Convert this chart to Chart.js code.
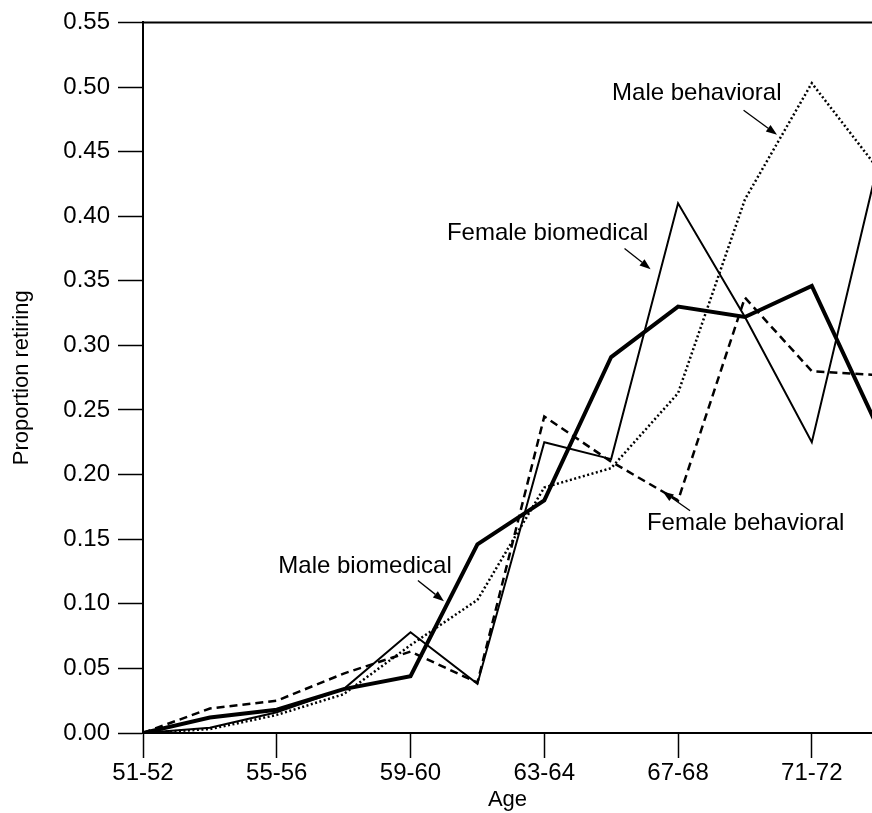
<!DOCTYPE html>
<html>
<head>
<meta charset="utf-8">
<title>Proportion retiring by age</title>
<script src="https://cdn.jsdelivr.net/npm/chart.js@4/dist/chart.umd.min.js"></script>
<style>
  html, body { margin: 0; padding: 0; background: #fff; overflow: hidden; }
  #wrap { width: 872px; height: 813px; }
</style>
</head>
<body>
<div id="wrap"><canvas id="chartcanvas"></canvas></div>
<script>
const ageGroups = ["51-52", "53-54", "55-56", "57-58", "59-60", "61-62",
  "63-64", "65-66", "67-68", "69-70", "71-72", "73-74"];

const maleBiomedical   = [0.000, 0.012, 0.018, 0.034, 0.044, 0.146, 0.180, 0.291, 0.330, 0.322, 0.346, 0.235];
const femaleBiomedical = [0.000, 0.004, 0.016, 0.034, 0.078, 0.038, 0.225, 0.212, 0.410, 0.322, 0.225, 0.443];
const maleBehavioral   = [0.000, 0.003, 0.014, 0.030, 0.068, 0.103, 0.190, 0.205, 0.263, 0.413, 0.503, 0.436];
const femaleBehavioral = [0.000, 0.019, 0.025, 0.046, 0.063, 0.039, 0.245, 0.210, 0.180, 0.337, 0.280, 0.277];

const yTicks = [0, 0.05, 0.10, 0.15, 0.20, 0.25, 0.30, 0.35, 0.40, 0.45, 0.50, 0.55];

// labels with arrows, in data units (x = age group index, y = proportion)
const notes = [
  { text: "Male behavioral",   at: [8.28, 0.495], from: [8.98, 0.482], to: [9.48, 0.463] },
  { text: "Female biomedical", at: [6.05, 0.387], from: [7.20, 0.375], to: [7.59, 0.359] },
  { text: "Female behavioral", at: [9.01, 0.162], from: [8.18, 0.172], to: [7.77, 0.187] },
  { text: "Male biomedical",   at: [3.32, 0.129], from: [4.11, 0.118], to: [4.50, 0.102] },
];

const FONT = "'Liberation Sans', Arial, Helvetica, sans-serif";
Chart.defaults.font.family = FONT;
Chart.defaults.color = "#000";

const toPoints = (arr) => arr.map((v, i) => ({ x: i, y: v }));

const annotate = {
  id: "annotate",
  afterDatasetsDraw(chart) {
    const { ctx, chartArea, scales: { x, y } } = chart;
    ctx.save();
    // top frame line
    ctx.strokeStyle = "#000";
    ctx.lineWidth = 2;
    ctx.beginPath();
    ctx.moveTo(chartArea.left, chartArea.top);
    ctx.lineTo(chartArea.right, chartArea.top);
    ctx.stroke();

    ctx.font = "24px " + FONT;
    ctx.fillStyle = "#000";
    ctx.textAlign = "center";
    ctx.textBaseline = "middle";
    notes.forEach((n) => {
      ctx.fillText(n.text, x.getPixelForValue(n.at[0]), y.getPixelForValue(n.at[1]));
      const x0 = x.getPixelForValue(n.from[0]), y0 = y.getPixelForValue(n.from[1]);
      const x1 = x.getPixelForValue(n.to[0]), y1 = y.getPixelForValue(n.to[1]);
      const ang = Math.atan2(y1 - y0, x1 - x0);
      const len = 11, half = 4;
      ctx.lineWidth = 1.3;
      ctx.beginPath();
      ctx.moveTo(x0, y0);
      ctx.lineTo(x1 - len * Math.cos(ang), y1 - len * Math.sin(ang));
      ctx.stroke();
      ctx.beginPath();
      ctx.moveTo(x1, y1);
      ctx.lineTo(x1 - len * Math.cos(ang) + half * Math.sin(ang), y1 - len * Math.sin(ang) - half * Math.cos(ang));
      ctx.lineTo(x1 - len * Math.cos(ang) - half * Math.sin(ang), y1 - len * Math.sin(ang) + half * Math.cos(ang));
      ctx.closePath();
      ctx.fill();
    });
    ctx.restore();
  },
};

const config = {
  type: "line",
  data: {
    datasets: [
      {
        label: "Male biomedical",
        data: toPoints(maleBiomedical),
        borderColor: "#000",
        borderWidth: 4,
      },
      {
        label: "Female biomedical",
        data: toPoints(femaleBiomedical),
        borderColor: "#000",
        borderWidth: 2,
      },
      {
        label: "Male behavioral",
        data: toPoints(maleBehavioral),
        borderColor: "#000",
        borderWidth: 2.5,
        borderDash: [2, 2.5],
      },
      {
        label: "Female behavioral",
        data: toPoints(femaleBehavioral),
        borderColor: "#000",
        borderWidth: 2.5,
        borderDash: [8, 5],
      },
    ],
  },
  options: {
    responsive: true,
    maintainAspectRatio: false,
    animation: false,
    layout: { padding: { top: 1, right: 0, left: 0, bottom: 0 } },
    elements: {
      point: { radius: 0, hoverRadius: 0 },
      line: { tension: 0, borderCapStyle: "butt", borderJoinStyle: "miter" },
    },
    plugins: {
      legend: { display: false },
      tooltip: { enabled: false },
    },
    scales: {
      x: {
        type: "linear",
        min: 0,
        max: 10.9,
        afterFit: (scale) => { scale.height = 80; },
        ticks: {
          stepSize: 2,
          includeBounds: false,
          padding: 1,
          font: { size: 24 },
          color: "#000",
          callback: (v) => ageGroups[v] || "",
        },
        grid: {
          drawOnChartArea: false,
          tickLength: 25,
          tickColor: "#000",
          tickWidth: 1.5,
        },
        border: { color: "#000", width: 2 },
        title: {
          display: true,
          text: "Age",
          font: { size: 22 },
          color: "#000",
          padding: { top: 0, bottom: 0 },
        },
      },
      y: {
        min: 0,
        max: 0.55,
        afterFit: (scale) => { scale.width = 143; },
        afterBuildTicks: (scale) => { scale.ticks = yTicks.map((v) => ({ value: v })); },
        ticks: {
          padding: 8,
          font: { size: 24 },
          color: "#000",
          callback: (v) => v.toFixed(2),
        },
        grid: {
          drawOnChartArea: false,
          tickLength: 25,
          tickColor: "#000",
          tickWidth: 1.5,
        },
        border: { color: "#000", width: 2 },
        title: {
          display: true,
          text: "Proportion retiring",
          font: { size: 22 },
          color: "#000",
          padding: { top: 9, bottom: 0 },
        },
      },
    },
  },
  plugins: [annotate],
};

const chart = new Chart(document.getElementById("chartcanvas"), config);
</script>
</body>
</html>
